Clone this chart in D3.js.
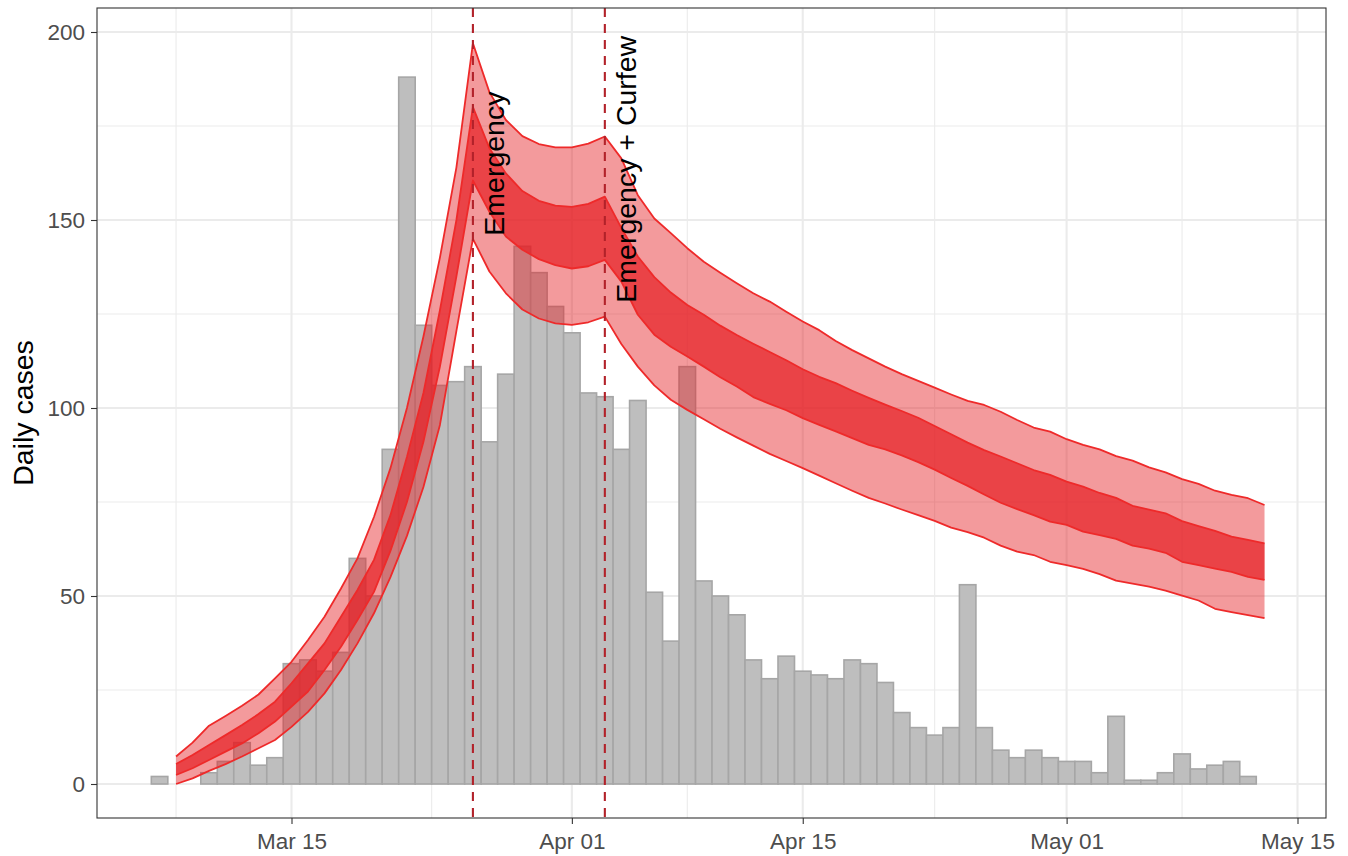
<!DOCTYPE html>
<html>
<head>
<meta charset="utf-8">
<script src="https://cdn.jsdelivr.net/npm/d3@7"></script>
<style>
  body { margin: 0; background: #ffffff; }
  svg { display: block; }
  text { font-family: "Liberation Sans", Arial, Helvetica, sans-serif; }
</style>
</head>
<body>
<svg id="chart" width="1348" height="856"></svg>
<script>
// ---------------- DATA ----------------
const barStartDate = "2020-03-07";
// daily reported cases, Mar 07 .. May 13
const dailyCases = [
  2, 0, 0, 3, 6, 11, 5, 7,                 // Mar 07 - Mar 14
  32, 33, 30, 35, 60, 50, 89, 188, 122, 106, // Mar 15 - Mar 24
  107, 111, 91, 109, 143, 136, 127,         // Mar 25 - Mar 31
  120, 104, 103, 89, 102, 51, 38, 111, 54, 50, // Apr 01 - Apr 10
  45, 33, 28, 34, 30, 29, 28, 33, 32, 27,   // Apr 11 - Apr 20
  19, 15, 13, 15, 53, 15, 9, 7, 9, 7,       // Apr 21 - Apr 30
  6, 6, 3, 18, 1, 1, 3, 8, 4, 5, 6, 2, 0    // May 01 - May 13
];

const ribbonStartDate = "2020-03-08";
// model projection bands, Mar 08 .. May 13
const outerUpper = [
  7.3, 11, 15.5, 18.1, 20.8, 23.8, 28.1, 32.5, 38.3, 44.5, 52, 60, 71, 84, 100, 119, 140, 164,
  197, 184, 176.6, 172.3, 170.2, 169.3, 169.3, 170.3, 172.2,
  166.4, 156.6, 150.4, 146.5, 142.5, 138.9, 136.0, 133.2, 130.5, 128.3, 125.6, 123.0, 120.7,
  117.8, 115.4, 113.2, 111.0, 109.0, 107.2, 105.4, 103.6, 101.9, 100.8,
  99.0, 96.8, 94.8, 93.7, 91.7, 90.2, 89.0, 87.2, 86.0, 84.2, 82.9, 81.1, 79.8, 78.0, 76.9, 76.0, 74.2
];
const innerUpper = [
  5.3, 7.7, 10.4, 13.0, 15.7, 18.6, 21.9, 26.8, 32.1, 37.4, 44.5, 51.6, 59.6, 71.5, 87, 104, 126, 150,
  180, 169.1, 162.4, 157.7, 155.1, 153.8, 153.5, 154.3, 156.2,
  147.9, 140.3, 134.8, 130.7, 127.4, 124.8, 121.9, 119.4, 117.1, 114.9, 112.7, 110.3, 108.3,
  106.6, 104.6, 102.7, 100.9, 99.2, 97.4, 95.2, 93.0, 90.8, 88.8,
  87.1, 85.3, 83.5, 82.2, 80.4, 79.1, 77.4, 76.1, 74.0, 73.0, 72.0, 69.9, 68.6, 67.3, 65.8, 64.9, 64.0
];
const innerLower = [
  2.4, 4.2, 6.4, 8.6, 10.8, 13.5, 16.6, 20.6, 24.6, 30.3, 36.5, 43.6, 51.1, 62, 75, 91, 111, 135,
  160.5, 152.2, 145.6, 142.1, 139.6, 138.0, 137.1, 137.7, 139.4,
  133.6, 124.8, 119.5, 116.3, 113.7, 111.0, 108.2, 105.7, 102.9, 101.1, 99.4, 97.3, 95.5,
  93.8, 92.0, 90.2, 89.0, 87.4, 85.6, 83.6, 81.4, 79.3, 77.0,
  74.8, 73.1, 71.5, 69.8, 68.9, 67.1, 66.2, 65.2, 63.4, 62.6, 61.5, 59.1, 58.2, 57.3, 56.4, 55.1, 54.3
];
const outerLower = [
  0, 1.5, 3.5, 5.3, 7.3, 9.5, 11.7, 15.2, 19.2, 24.1, 30.3, 37.4, 45.4, 55, 66, 79, 95.5, 120.5,
  145, 136.3, 130.5, 126.2, 123.8, 122.5, 122.1, 122.8, 124.3,
  117, 111, 106, 102.2, 99.5, 97, 94.5, 92.2, 90, 87.8, 85.9, 84.0, 82,
  80, 78, 76.1, 74.6, 73.0, 71.5, 70.0, 68.2, 67.0, 65.5,
  63.4, 61.8, 60.9, 59.1, 58.2, 57.2, 55.8, 54.1, 53.3, 52.5, 51.4, 50.1, 48.8, 46.6, 45.7, 44.9, 44.1
];

const xBreakDates = ["2020-03-01", "2020-03-15", "2020-04-01", "2020-04-15", "2020-05-01", "2020-05-15", "2020-06-01"];
const xTickDates = ["2020-03-15", "2020-04-01", "2020-04-15", "2020-05-01", "2020-05-15"];
const xTickLabels = ["Mar 15", "Apr 01", "Apr 15", "May 01", "May 15"];
const yTicks = [0, 50, 100, 150, 200];
const yMinorTicks = [25, 75, 125, 175];
const eventDates = ["2020-03-26", "2020-04-03"];
const eventLabels = ["Emergency", "Emergency + Curfew"];
const eventLabelValues = [165, 163.5];
const yTitle = "Daily cases";

// ---------------- LAYOUT ----------------
const panel = { left: 97, right: 1326, top: 8, bottom: 818 };
const parse = d3.utcParse("%Y-%m-%d");

const x = d3.scaleUtc()
  .domain([parse("2020-03-15"), parse("2020-05-15")])
  .range([291.5, 1297.5]);
const y = d3.scaleLinear().domain([0, 200]).range([784, 32]);

const svg = d3.select("#chart");

svg.append("defs").append("clipPath").attr("id", "panelClip")
  .append("rect")
  .attr("x", panel.left).attr("y", panel.top)
  .attr("width", panel.right - panel.left).attr("height", panel.bottom - panel.top);

// grid
const grid = svg.append("g").attr("clip-path", "url(#panelClip)");
const breaks = xBreakDates.map(parse);
const minorX = d3.pairs(breaks).map(([a, b]) => new Date((a.getTime() + b.getTime()) / 2));
grid.selectAll("line.ymin").data(yMinorTicks).join("line")
  .attr("x1", panel.left).attr("x2", panel.right)
  .attr("y1", d => y(d)).attr("y2", d => y(d))
  .attr("stroke", "#EBEBEB").attr("stroke-width", 1.1);
grid.selectAll("line.xmin").data(minorX).join("line")
  .attr("y1", panel.top).attr("y2", panel.bottom)
  .attr("x1", d => x(d)).attr("x2", d => x(d))
  .attr("stroke", "#EBEBEB").attr("stroke-width", 1.1);
grid.selectAll("line.ymaj").data(yTicks).join("line")
  .attr("x1", panel.left).attr("x2", panel.right)
  .attr("y1", d => y(d)).attr("y2", d => y(d))
  .attr("stroke", "#EBEBEB").attr("stroke-width", 2.1);
grid.selectAll("line.xmaj").data(xTickDates.map(parse)).join("line")
  .attr("y1", panel.top).attr("y2", panel.bottom)
  .attr("x1", d => x(d)).attr("x2", d => x(d))
  .attr("stroke", "#EBEBEB").attr("stroke-width", 2.1);

// bars
const bs = parse(barStartDate);
const bars = dailyCases.map((v, i) => ({ date: d3.utcDay.offset(bs, i), value: v }));
const plot = svg.append("g").attr("clip-path", "url(#panelClip)");
plot.selectAll("rect.bar").data(bars).join("rect")
  .attr("x", d => x(d3.utcHour.offset(d.date, -12)))
  .attr("width", d => x(d3.utcHour.offset(d.date, 12)) - x(d3.utcHour.offset(d.date, -12)))
  .attr("y", d => y(d.value))
  .attr("height", d => y(0) - y(d.value))
  .attr("fill", "#BEBEBE")
  .attr("stroke", "#A6A6A6")
  .attr("stroke-width", 1.6);

// ribbons
const rs = parse(ribbonStartDate);
const band = outerUpper.map((v, i) => ({
  date: d3.utcDay.offset(rs, i),
  ou: v, iu: innerUpper[i], il: innerLower[i], ol: outerLower[i]
}));
const fillCol = "rgb(229,30,36)";
const strokeCol = "#EE2A2A";

function drawRibbon(lo, hi, alpha) {
  plot.append("path").datum(band)
    .attr("d", d3.area().x(d => x(d.date)).y0(d => y(d[lo])).y1(d => y(d[hi])))
    .attr("fill", fillCol).attr("fill-opacity", alpha).attr("stroke", "none");
  [lo, hi].forEach(k => {
    plot.append("path").datum(band)
      .attr("d", d3.line().x(d => x(d.date)).y(d => y(d[k])))
      .attr("fill", "none").attr("stroke", strokeCol)
      .attr("stroke-width", 1.8).attr("stroke-linejoin", "round");
  });
}
drawRibbon("ol", "ou", 0.45);
drawRibbon("il", "iu", 0.70);

// event lines
const events = eventDates.map((d, i) => ({ date: parse(d), label: eventLabels[i], v: eventLabelValues[i] }));
plot.selectAll("line.event").data(events).join("line")
  .attr("x1", d => x(d.date)).attr("x2", d => x(d.date))
  .attr("y1", panel.top).attr("y2", panel.bottom)
  .attr("stroke", "#B2222A").attr("stroke-width", 2.1)
  .attr("stroke-dasharray", "9,7");

svg.selectAll("text.event").data(events).join("text")
  .attr("transform", d => `translate(${x(d.date) + 31.5},${y(d.v)}) rotate(-90)`)
  .attr("text-anchor", "middle")
  .attr("font-size", "28.5px")
  .attr("fill", "#000000")
  .text(d => d.label);

// axes
const xAxis = d3.axisBottom(x)
  .tickValues(xTickDates.map(parse))
  .tickFormat((d, i) => xTickLabels[i])
  .tickSize(6).tickSizeOuter(0).tickPadding(8.7);
const gx = svg.append("g").attr("transform", `translate(0,${panel.bottom})`).call(xAxis);
const yAxis = d3.axisLeft(y).tickValues(yTicks).tickFormat(d3.format("d"))
  .tickSize(6).tickSizeOuter(0).tickPadding(6);
const gy = svg.append("g").attr("transform", `translate(${panel.left},0)`).call(yAxis);
[gx, gy].forEach(g => {
  g.select(".domain").remove();
  g.selectAll(".tick line").attr("stroke", "#333333").attr("stroke-width", 1.1);
  g.selectAll(".tick text")
    .attr("fill", "#4D4D4D")
    .attr("font-size", "22.5px")
    .attr("font-family", "'Liberation Sans', Arial, Helvetica, sans-serif");
});

// y title
svg.append("text")
  .attr("transform", `translate(33,${(panel.top + panel.bottom) / 2}) rotate(-90)`)
  .attr("text-anchor", "middle")
  .attr("font-size", "28.5px")
  .attr("fill", "#000000")
  .text(yTitle);

// panel border
svg.append("rect")
  .attr("x", panel.left).attr("y", panel.top)
  .attr("width", panel.right - panel.left).attr("height", panel.bottom - panel.top)
  .attr("fill", "none").attr("stroke", "#333333").attr("stroke-width", 1.1);
</script>
</body>
</html>
